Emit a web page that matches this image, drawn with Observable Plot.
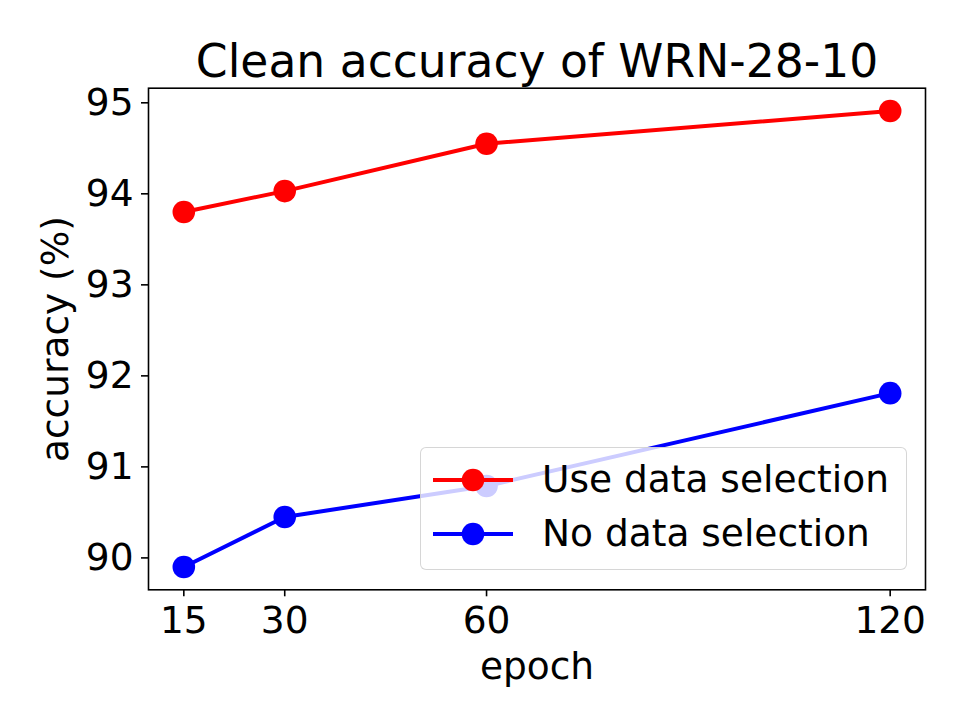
<!DOCTYPE html>
<html>
<head>
<meta charset="utf-8">
<script src="https://cdn.jsdelivr.net/npm/d3@7"></script>
<script src="https://cdn.jsdelivr.net/npm/@observablehq/plot@0.6"></script>
<style>
  html, body { margin: 0; padding: 0; background: #fff; }
  #wrap { position: relative; width: 968px; height: 726px; font-family: "DejaVu Sans", sans-serif; }
  #legend { position: absolute; box-sizing: border-box; background: rgba(255,255,255,0.8);
            border: 1.6px solid rgba(204,204,204,0.8); border-radius: 6px; }
  .row { position: absolute; left: 0; height: 40px; display: flex; align-items: center; }
  .row span { font-size: 37.5px; color: #000; white-space: nowrap; line-height: 1; }
</style>
</head>
<body>
<div id="wrap"></div>
<script>
// ---- data ----
const title = "Clean accuracy of WRN-28-10";
const xLabel = "epoch";
const yLabel = "accuracy (%)";
const epochs = [15, 30, 60, 120];
const useSelection = [93.80, 94.03, 94.55, 94.91];
const noSelection = [89.90, 90.45, 90.79, 91.81];
const seriesNames = ["Use data selection", "No data selection"];
const seriesColors = ["#ff0000", "#0000ff"];
const xTicks = [15, 30, 60, 120];
const yTicks = [90, 91, 92, 93, 94, 95];

const seriesValues = [useSelection, noSelection];
const rows = [];
seriesNames.forEach((name, i) => {
  epochs.forEach((e, j) => rows.push({series: name, epoch: e, acc: seriesValues[i][j]}));
});

// matplotlib-style 5% margins
const allY = useSelection.concat(noSelection);
const [y0, y1] = d3.extent(allY);
const [x0, x1] = d3.extent(epochs);
const px = (x1 - x0) * 0.05, py = (y1 - y0) * 0.05;

const fontSize = 37.5;
const chart = Plot.plot({
  width: 968,
  height: 726,
  marginLeft: 148,
  marginRight: 43,
  marginTop: 87.7,
  marginBottom: 726 - 589.3,
  style: {fontFamily: "DejaVu Sans, sans-serif", fontSize: fontSize + "px", color: "#000", background: "#fff"},
  x: {domain: [x0 - px, x1 + px]},
  y: {domain: [y0 - py, y1 + py]},
  color: {domain: seriesNames, range: seriesColors},
  marks: [
    Plot.axisX({ticks: xTicks, tickFormat: d => String(d), tickSize: 7, tickPadding: 10, label: null, fontSize: fontSize, strokeWidth: 1.6}),
    Plot.axisY({ticks: yTicks, tickFormat: d => String(d), tickSize: 7, tickPadding: 8, label: null, fontSize: fontSize, strokeWidth: 1.6}),
    Plot.line(rows, {x: "epoch", y: "acc", z: "series", stroke: "series", strokeWidth: 4}),
    Plot.dot(rows, {x: "epoch", y: "acc", fill: "series", r: 11.3, stroke: null}),
    Plot.frame({stroke: "#000", strokeWidth: 1.6}),
    Plot.text([title], {frameAnchor: "top", text: d => d, lineAnchor: "bottom", dy: -11, fontSize: 45.6, fill: "#000"}),
    Plot.text([xLabel], {frameAnchor: "bottom", text: d => d, lineAnchor: "bottom", dy: 88.7, fontSize: fontSize, fill: "#000"}),
    Plot.text([yLabel], {frameAnchor: "left", text: d => d, textAnchor: "middle", lineAnchor: "bottom", rotate: -90, dx: -81, fontSize: fontSize, fill: "#000"})
  ]
});
const wrap = document.getElementById("wrap");
wrap.appendChild(chart);

// ---- legend (overlay, like matplotlib's framed legend) ----
const legend = d3.select(wrap).append("div").attr("id", "legend")
  .style("left", "420px").style("top", "447px").style("width", "487px").style("height", "123px");
seriesNames.forEach((name, i) => {
  const row = legend.append("div").attr("class", "row").style("top", (i === 0 ? 12 : 66) + "px");
  const svg = row.append("svg").attr("width", 110).attr("height", 40);
  svg.append("line").attr("x1", 12).attr("x2", 92).attr("y1", 20).attr("y2", 20)
    .attr("stroke", seriesColors[i]).attr("stroke-width", 4);
  svg.append("circle").attr("cx", 52).attr("cy", 20).attr("r", 11.3).attr("fill", seriesColors[i]);
  row.append("span").style("margin-left", "11px").text(name);
});
</script>
</body>
</html>
